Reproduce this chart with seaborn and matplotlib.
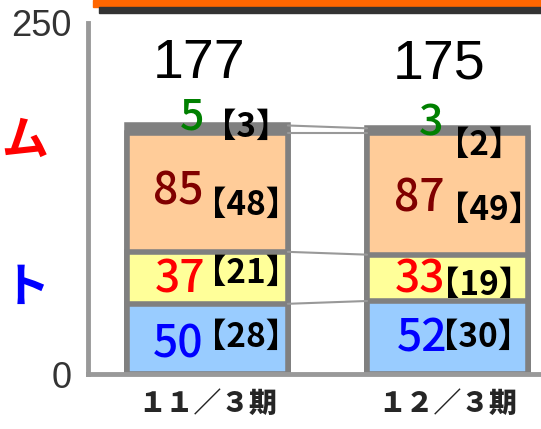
import matplotlib
matplotlib.use('Agg')
import matplotlib.pyplot as plt
import matplotlib.patches as mpatches
import seaborn as sns
import pandas as pd
import numpy as np

# data
periods = ['１１／３期', '１２／３期']
seg_blue = [50, 52]
seg_yellow = [37, 33]
seg_orange = [85, 87]
seg_other = [5, 3]
sub_blue = [28, 30]
sub_yellow = [21, 19]
sub_orange = [48, 49]
sub_other = [3, 2]
totals = [177, 175]
side_labels = ['システム', 'プロダクト']

segs = np.array([seg_blue, seg_yellow, seg_orange, seg_other])
subs = np.array([sub_blue, sub_yellow, sub_orange, sub_other])
cum = segs.cumsum(axis=0)

fill_cols = ['#99CCFF', '#FFFF99', '#FFCC99', '#808080']
text_cols = ['#0000FF', '#FF0000', '#800000', '#008000']
edge = '#808080'
bar_w = 0.67

sns.set_style('white')
jp = ['Noto Sans CJK JP', 'DejaVu Sans']
plt.rcParams['font.family'] = jp

W, H = 541, 429
fig = plt.figure(figsize=(W / 100, H / 100), dpi=100)
ax = fig.add_axes([88 / W, 55 / H, 453 / W, 351 / H])

# stacked bars: draw cumulative heights, tallest first
for k in range(len(segs) - 1, -1, -1):
    df = pd.DataFrame({'period': periods, 'value': cum[k]})
    sns.barplot(data=df, x='period', y='value', color=fill_cols[k], saturation=1,
                width=bar_w, edgecolor=edge, linewidth=4, errorbar=None, ax=ax)

# connector lines between the bars
for k in range(len(segs)):
    ax.plot([bar_w / 2, 1 - bar_w / 2], [cum[k][0], cum[k][1]],
            color='#999999', lw=1.5, zorder=3)

ax.set_xlim(-0.498, 1.39)
ax.set_ylim(0, 250)
ax.set_xlabel('')
ax.set_ylabel('')
ax.set_yticks([0, 250])
ax.set_yticklabels(['0', '250'], fontsize=26, family='Liberation Sans', color='#333333')
ax.tick_params(axis='y', direction='in', length=8, width=3.5, color='#999999', pad=12)
ax.tick_params(axis='x', length=0, pad=11)
for lab in ax.get_xticklabels():
    lab.set_fontsize(20)
    lab.set_fontweight('heavy')
for s in ['top', 'right']:
    ax.spines[s].set_visible(False)
for s in ['left', 'bottom']:
    ax.spines[s].set_color('#999999')
    ax.spines[s].set_linewidth(3.5)

px = 1 / 240.0      # x data units per pixel

# value labels (x centre offset in px from bar centre, baseline in data units)
val_dx = [[-29, -25.5], [-27, -27.5], [-29, -28], [-15.5, -16.5]]
val_base = [[12.1, 15.7], [57.7, 57.7], [120.4, 115.4], [173.8, 170.2]]
val_fs = [32, 32, 32, 31]
sub_dx = [[39, 31], [39, 31.5], [39, 41.5], [39, 31.5]]
sub_base = [[19.2, 19.2], [64.8, 56.3], [113.2, 109.7], [168.8, 156.0]]

for k in range(len(segs)):
    for i in range(len(periods)):
        ax.text(i + val_dx[k][i] * px, val_base[k][i], str(segs[k][i]),
                color=text_cols[k], fontsize=val_fs[k], fontweight='medium',
                ha='center', va='baseline', zorder=5)
        ax.text(i + sub_dx[k][i] * px, sub_base[k][i], '【%d】' % subs[k][i],
                color='black', fontsize=24, fontweight='bold', ha='center',
                va='baseline', zorder=6)

for i in range(len(periods)):
    ax.text(i - 8 * px, 210.8, str(totals[i]), fontsize=40, family='Liberation Sans',
            ha='center', va='baseline', color='black')

# clipped side labels on the left edge
fig.text(49 / W, 1 - 141 / H, side_labels[0], color='#FF0000', fontsize=34,
         fontweight='bold', ha='right', va='center')
fig.text(50 / W, 1 - 289 / H, side_labels[1], color='#0000FF', fontsize=34,
         fontweight='bold', ha='right', va='center')

# header bars at the top
fig.patches.append(mpatches.Rectangle((93 / W, 1 - 7 / H), 1, 7 / H,
                                      color='#FF6600', transform=fig.transFigure))
fig.patches.append(mpatches.Rectangle((99 / W, 1 - 12.5 / H), 1, 5.5 / H,
                                      color='#333333', transform=fig.transFigure))

fig.savefig('out.png', dpi=100)
